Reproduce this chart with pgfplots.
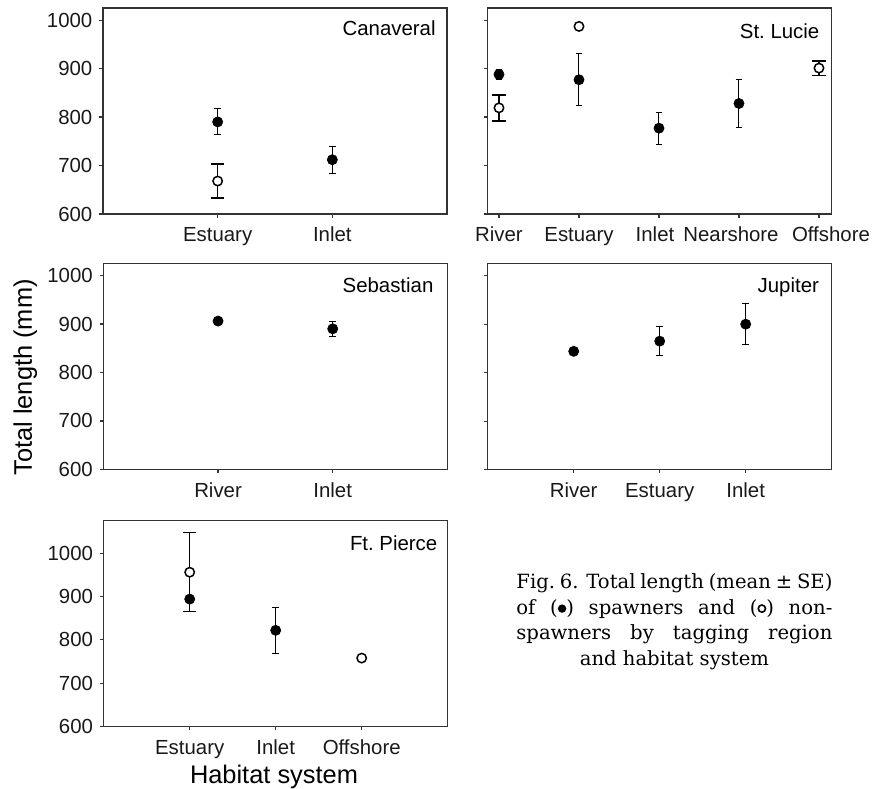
\documentclass[border=0pt]{standalone}
\usepackage{fontspec}
\setmainfont{Liberation Sans}
\newfontfamily\captfont{DejaVu Serif}
\usepackage{pgfplots}
\pgfplotsset{compat=1.18}
\newcommand\fdot{\tikz[baseline={(0,-2.7pt)}]\fill[black] (0,0) circle (2.1pt);}
\newcommand\odotm{\tikz[baseline={(0,-2.7pt)}]\draw[black, line width=0.8pt] (0,0) circle (1.8pt);}
\tikzset{ttl/.style={anchor=north east, inner sep=0pt, font=\fontsize{10.2}{12}\selectfont}}
\pgfplotsset{
  panel/.style={
    width=172pt, height=103pt, scale only axis,
    ymin=600, ymax=1025, ytick={600,700,800,900,1000},
    tick align=outside, tick pos=left, major tick length=1.8pt,
    axis line style={line width=0.6pt, black!80},
    tick style={line width=0.6pt, black!80},
    /pgf/number format/assume math mode=true,
    /pgf/number format/set thousands separator={},
    ticklabel style={font=\fontsize{10.2}{12}\selectfont, text=black!90},
    xticklabel style={text height=7.4pt, text depth=2.2pt, yshift=-1.2pt},
    clip=false,
  },
  spawn/.style={only marks, mark=*, mark size=2.55pt,
    mark options={fill=black, draw=black, line width=0.3pt},
    error bars/y dir=both, error bars/y explicit,
    error bars/error bar style={line width=0.5pt, black},
    error bars/error mark options={rotate=90, mark size=1.7pt, line width=0.5pt, black}},
  spawnne/.style={only marks, mark=*, mark size=2.55pt,
    mark options={fill=black, draw=black, line width=0.3pt}},
  non/.style={only marks, mark=*, mark size=2.35pt,
    mark options={fill=white, draw=black, line width=0.75pt},
    error bars/y dir=both, error bars/y explicit,
    error bars/error bar style={line width=0.75pt, black},
    error bars/error mark options={rotate=90, mark size=3.3pt, line width=0.75pt, black}},
  nonne/.style={only marks, mark=*, mark size=2.35pt,
    mark options={fill=white, draw=black, line width=0.75pt}},
}
\begin{document}
\begin{tikzpicture}
\path[use as bounding box] (0,0) rectangle (438.5pt,394pt);

% Canaveral
\begin{axis}[panel, at={(51.5pt,287pt)}, anchor=south west,
  xmin=0, xmax=3, xtick={1,2}, xticklabels={Estuary,Inlet}]
\addplot[spawn] coordinates {(1,790) +- (0,27) (2,712) +- (0,28)};
\addplot[non] coordinates {(1,668) +- (0,35)};
\node[ttl] at (rel axis cs:1,1) [xshift=-5.5pt, yshift=-6.4pt] {Canaveral};
\end{axis}

% St. Lucie
\begin{axis}[panel, at={(243.85pt,287pt)}, anchor=south west,
  xmin=0.859, xmax=5.159, xtick={1,2,3,4,5},
  xticklabels={River,Estuary,\hspace*{-4pt}Inlet,\hspace*{-8pt}Nearshore,\hspace*{12pt}Offshore},
  yticklabels={}]
\addplot[spawn] coordinates {(1,888) +- (0,10) (2,877) +- (0,54) (3,777) +- (0,33) (4,828) +- (0,50)};
\addplot[non] coordinates {(1,819) +- (0,27) (5,901) +- (0,15)};
\addplot[nonne] coordinates {(2,987)};
\node[ttl] at (rel axis cs:1,1) [xshift=-6pt, yshift=-7.8pt] {St.\ Lucie};
\end{axis}

% Sebastian
\begin{axis}[panel, at={(51.7pt,159.3pt)}, anchor=south west,
  xmin=0, xmax=3, xtick={1,2}, xticklabels={River,Inlet}]
\addplot[spawn] coordinates {(1,906) +- (0,7) (2,890) +- (0,16)};
\node[ttl] at (rel axis cs:1,1) [xshift=-6.8pt, yshift=-7pt] {Sebastian};
\end{axis}

% Jupiter
\begin{axis}[panel, at={(243.85pt,159.2pt)}, anchor=south west,
  xmin=0, xmax=4, xtick={1,2,3}, xticklabels={River,Estuary,Inlet}, yticklabels={}]
\addplot[spawnne] coordinates {(1,844)};
\addplot[spawn] coordinates {(2,865) +- (0,30) (3,900) +- (0,42)};
\node[ttl] at (rel axis cs:1,1) [xshift=-6.2pt, yshift=-7.1pt] {Jupiter};
\end{axis}

% Ft. Pierce
\begin{axis}[panel, at={(51.85pt,30.7pt)}, anchor=south west, ymax=1075,
  xmin=0, xmax=4, xtick={1,2,3}, xticklabels={Estuary,Inlet,Offshore}]
\addplot[non] coordinates {(1,956) +- (0,91)};
\addplot[spawnne] coordinates {(1,894)};
\addplot[spawn] coordinates {(2,822) +- (0,53)};
\addplot[nonne] coordinates {(3,758)};
\node[ttl] at (rel axis cs:1,1) [xshift=-5pt, yshift=-7.5pt] {Ft.\ Pierce};
\end{axis}

\node[rotate=90, anchor=base, inner sep=0pt, font=\fontsize{12.7}{15}\selectfont]
  at (16pt,205.3pt) {Total length (mm)};
\node[anchor=base, inner sep=0pt, font=\fontsize{12.7}{15}\selectfont]
  at (137pt,2.5pt) {Habitat system};

\node[anchor=base west, inner sep=0pt, align=left,
  font={\captfont\fontsize{9.8}{12.75}\selectfont}] at (258pt,61.5pt)
  {\makebox[158pt][s]{Fig.\ 6. Total length (mean ± SE)}\\
   \makebox[158pt][s]{of (\fdot) spawners and (\odotm) non-}\\
   \makebox[158pt][s]{spawners by tagging region}\\
   \makebox[158pt][c]{and habitat system}};
\end{tikzpicture}
\end{document}
